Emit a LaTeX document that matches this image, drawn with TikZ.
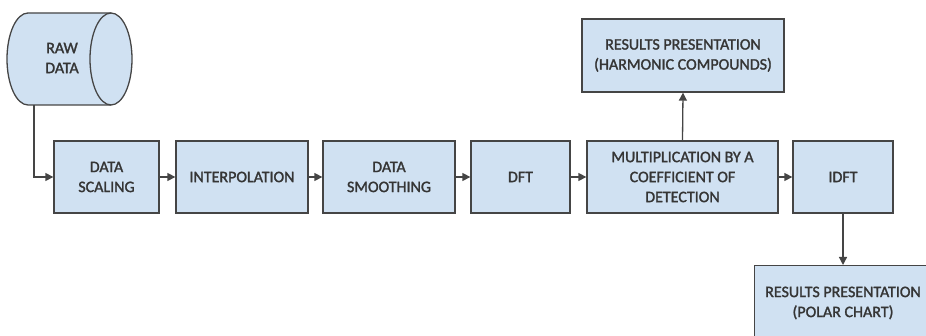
\documentclass[tikz,border=0pt]{standalone}
\usepackage{fontspec}
\setmainfont{Carlito}
\newfontfamily\lblfont{Carlito}[FakeBold=1.6]
\usetikzlibrary{arrows.meta}
\definecolor{boxfill}{HTML}{D0E1F2}
\definecolor{boxline}{HTML}{454545}
\definecolor{txt}{HTML}{353535}
\tikzset{
  lbl/.style={align=center, text=txt, font=\lblfont\fontsize{16}{20}\selectfont},
  blk/.style={lbl, draw=boxline, fill=boxfill, line width=1.3pt, inner sep=2pt},
  arr/.style={draw=boxline, line width=1.3pt, -{Triangle[length=8pt,width=8pt]}}
}
\begin{document}
\begin{tikzpicture}[x=1pt,y=-1pt]
\useasboundingbox (0,0) rectangle (926,336);
\begin{scope}
\clip (0,0) rectangle (926,336);
% cylinder
\filldraw[draw=boxline, fill=boxfill, line width=1.3pt]
  (28,13) arc[start angle=270, end angle=90, x radius=21, y radius=46]
  -- (111,105) arc[start angle=90, end angle=-90, x radius=21, y radius=46]
  -- cycle;
\draw[draw=boxline, line width=1.3pt]
  (111,13) arc[start angle=270, end angle=90, x radius=21, y radius=46];
\node[lbl] (raw) at (62,58) {RAW\\DATA};
\coordinate (rawbot) at (34,105);
\node[blk, minimum width=105pt, minimum height=72pt] (scale) at (106.5,177) {DATA\\SCALING};
\node[blk, minimum width=132pt, minimum height=72pt] (interp) at (242,177) {INTERPOLATION};
\node[blk, minimum width=132pt, minimum height=72pt] (smooth) at (389,177) {DATA\\SMOOTHING};
\node[blk, minimum width=99pt, minimum height=72pt] (dft) at (520.5,177) {DFT};
\node[blk, minimum width=191pt, minimum height=72pt] (mult) at (682.5,177) {MULTIPLICATION BY A\\COEFFICIENT OF\\DETECTION};
\node[blk, minimum width=100pt, minimum height=72pt] (idft) at (843,177) {IDFT};
\node[blk, minimum width=202pt, minimum height=73pt] (harm) at (683,55.5) {RESULTS PRESENTATION\\(HARMONIC COMPOUNDS)};
\node[blk, minimum width=178pt, minimum height=80pt, anchor=north west] (polar) at (754,265) {};
\node[lbl] (polartxt) at (843,303) {RESULTS PRESENTATION\\(POLAR CHART)};
\end{scope}
\draw[arr] (rawbot) |- (scale.west);
\draw[arr] (scale) -- (interp);
\draw[arr] (interp) -- (smooth);
\draw[arr] (smooth) -- (dft);
\draw[arr] (dft) -- (mult);
\draw[arr] (mult) -- (idft);
\draw[arr] (mult.north) -- (harm.south);
\draw[arr] (idft.south) -- (idft.south |- polar.north);
\end{tikzpicture}
\end{document}
